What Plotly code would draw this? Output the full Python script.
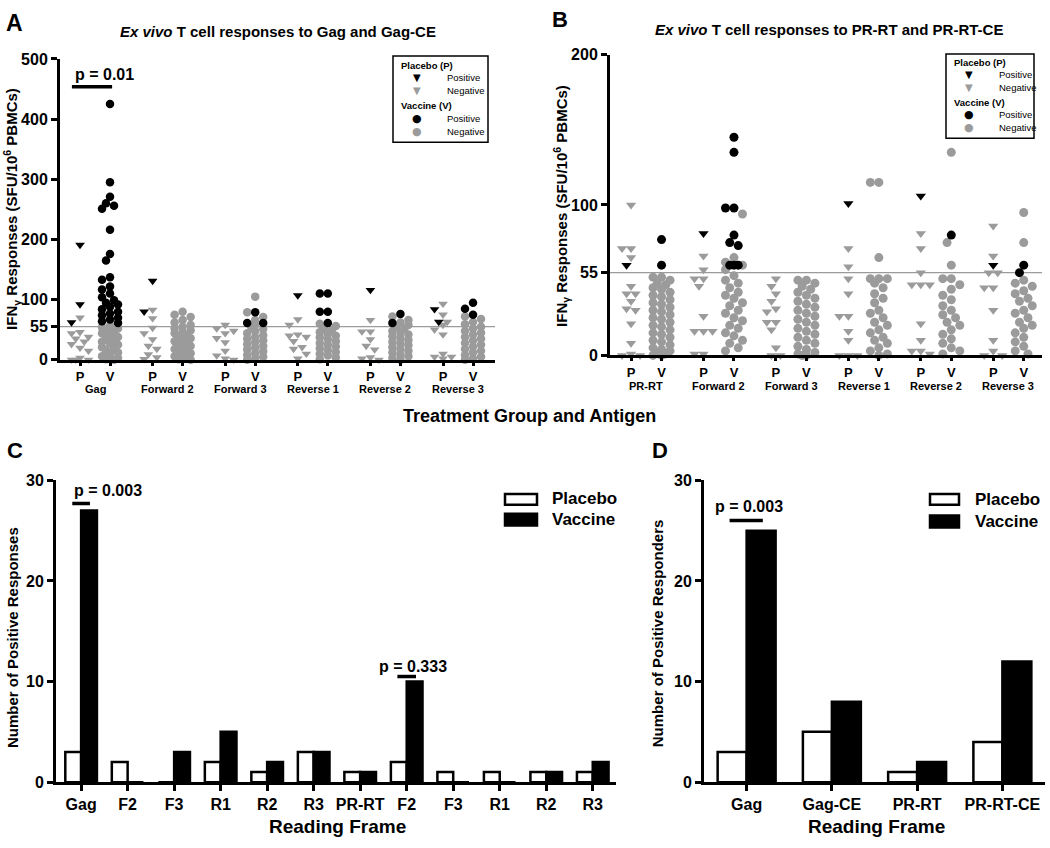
import math
import plotly.graph_objects as go

W, H = 1050, 848
FONT = "Liberation Sans, Arial, Helvetica, sans-serif"
GREY = "#9b9b9b"

# ---------------- Panel A data (Gag and Gag-CE) ----------------
groups_A = ["Gag", "Forward 2", "Forward 3", "Reverse 1", "Reverse 2", "Reverse 3"]
A_placebo_pos = [[191, 92, 62], [131, 80], [], [107], [116], [84, 63]]
A_placebo_neg = [
    [70, 46, 44, 38, 35, 30, 26, 20, 15, 3, 0, 0, 0],
    [83, 69, 53, 44, 34, 23, 18, 9, 4, 1],
    [58, 52, 48, 44, 36, 29, 15, 7, 2, 0],
    [67, 58, 42, 40, 38, 31, 21, 18, 10, 2],
    [66, 47, 47, 34, 23, 17, 4, 2, 0],
    [93, 75, 63, 58, 50, 42, 10, 5, 5, 2],
]
A_vaccine_pos = [
    [425, 295, 271, 260, 256, 251, 216, 176, 165, 137, 133, 122, 117, 110,
     104, 99, 95, 92, 88, 84, 80, 77, 74, 70, 67, 64, 61],
    [],
    [79, 61, 61],
    [110, 110, 80, 80, 61],
    [76, 61],
    [95, 85, 75],
]
A_vaccine_neg = [
    [57, 54, 52, 49, 47, 44, 41, 38, 36, 33, 30, 27, 25, 21, 18, 16, 12, 9, 6, 3, 1, 0],
    [80, 75, 71, 66, 62, 58, 55, 52, 49, 46, 44, 41, 38, 36, 33, 31, 28, 26, 23, 21,
     18, 16, 13, 11, 8, 6, 3, 1, 0],
    [105, 79, 71, 66, 58, 55, 51, 48, 44, 41, 38, 35, 32, 29, 26, 23, 20, 17, 14, 11, 8, 5, 2, 0],
    [60, 56, 52, 49, 46, 43, 40, 37, 34, 31, 28, 25, 22, 19, 16, 13, 10, 7, 4, 1],
    [72, 66, 62, 58, 55, 52, 48, 45, 42, 39, 36, 33, 30, 27, 24, 21, 18, 15, 12, 9, 6, 3, 0],
    [72, 68, 63, 59, 55, 52, 48, 45, 42, 38, 35, 32, 28, 25, 22, 18, 15, 12, 8, 5, 2, 0],
]

# ---------------- Panel B data (PR-RT and PR-RT-CE) ----------------
groups_B = ["PR-RT", "Forward 2", "Forward 3", "Reverse 1", "Reverse 2", "Reverse 3"]
B_placebo_pos = [[60], [81], [], [101], [106], [60]]
B_placebo_neg = [
    [100, 71, 71, 65, 46, 41, 41, 36, 31, 30, 21, 8, 1, 0, 0],
    [66, 57, 51, 51, 46, 26, 16, 16, 16, 1, 1],
    [51, 46, 41, 36, 31, 29, 22, 22, 17, 5, 0, 0],
    [71, 59, 51, 41, 26, 26, 16, 10, 0, 0, 0],
    [81, 71, 55, 47, 47, 47, 21, 10, 3, 3, 1],
    [86, 66, 55, 55, 45, 45, 30, 10, 3, 0, 0],
]
B_vaccine_pos = [[77, 60], [145, 135, 98, 98, 80, 75, 73, 60, 60, 60], [], [], [80], [60, 55]]
B_vaccine_neg = [
    [52, 52, 50, 48, 47, 45, 44, 42, 40, 39, 37, 35, 34, 32, 30, 29, 27, 25, 24, 22,
     20, 19, 17, 15, 14, 12, 10, 9, 7, 5, 4, 3, 2, 1, 0, 0],
    [94, 65, 62, 60, 57, 53, 50, 48, 45, 42, 40, 38, 35, 33, 30, 28, 25, 23, 20, 18,
     15, 13, 10, 8, 5, 3],
    [50, 50, 48, 46, 44, 42, 40, 38, 36, 34, 32, 30, 28, 26, 24, 22, 20, 18, 16, 14,
     12, 10, 8, 6, 4, 2, 1, 0, 0],
    [115, 115, 65, 51, 51, 51, 48, 45, 41, 38, 35, 30, 28, 25, 22, 20, 17, 15, 12, 10, 8, 5, 3, 1, 0],
    [135, 75, 60, 51, 51, 47, 44, 40, 37, 33, 30, 27, 25, 22, 20, 17, 14, 11, 8, 5, 3, 1],
    [95, 75, 50, 48, 46, 43, 41, 38, 36, 33, 30, 28, 25, 22, 20, 18, 15, 12, 9, 6, 3, 1],
]

# ---------------- Panel C / D data ----------------
C_labels = ["Gag", "F2", "F3", "R1", "R2", "R3", "PR-RT", "F2", "F3", "R1", "R2", "R3"]
C_placebo = [3, 2, 0, 2, 1, 3, 1, 2, 1, 1, 1, 1]
C_vaccine = [27, 0, 3, 5, 2, 3, 1, 10, 0, 0, 1, 2]

D_labels = ["Gag", "Gag-CE", "PR-RT", "PR-RT-CE"]
D_placebo = [3, 5, 1, 4]
D_vaccine = [25, 8, 2, 12]

A_ticks = [0, 55, 100, 200, 300, 400, 500]
B_ticks = [0, 55, 100, 200]
C_ticks = [0, 10, 20, 30]


def px(x):
    return x / W


def py(y):
    return 1 - y / H


def swarm(values, ypx, d):
    """Deterministic beeswarm offsets (in pixels) for one column."""
    order = sorted(range(len(values)), key=lambda i: -values[i])
    cands = [0.0, -0.5 * d, 0.5 * d, -d, d]
    placed = []
    offs = [0.0] * len(values)
    for i in order:
        y = values[i] * ypx
        best, bestd = 0.0, -1.0
        for c in cands:
            md = min((math.hypot(c - a, y - b) for a, b in placed), default=1e9)
            if md >= 0.92 * d:
                best = c
                break
            if md > bestd:
                bestd, best = md, c
        placed.append((best, y))
        offs[i] = best
    return offs


fig = go.Figure()


def add_scatter_panel(pos_p, neg_p, pos_v, neg_v, gap, unit_px, ypx, xa, ya, dtri, dcir, stri, scir):
    traces = {"pn": ([], []), "pp": ([], []), "vn": ([], []), "vp": ([], [])}
    for i in range(len(pos_p)):
        cp = i * gap
        cv = i * gap + 1.0
        for center, pos, neg, kp, kn, d in ((cp, pos_p[i], neg_p[i], "pp", "pn", dtri),
                                            (cv, pos_v[i], neg_v[i], "vp", "vn", dcir)):
            vals = list(pos) + list(neg)
            offs = swarm(vals, ypx, d)
            for j, v in enumerate(vals):
                key = kp if j < len(pos) else kn
                traces[key][0].append(center + offs[j] / unit_px)
                traces[key][1].append(v)
    spec = [("pn", "triangle-down", GREY, stri), ("vn", "circle", GREY, scir),
            ("pp", "triangle-down", "black", stri), ("vp", "circle", "black", scir)]
    for key, sym, col, size in spec:
        fig.add_trace(go.Scatter(
            x=traces[key][0], y=traces[key][1], mode="markers",
            marker=dict(symbol=sym, color=col, size=size, line=dict(width=0)),
            xaxis=xa, yaxis=ya, showlegend=False, cliponaxis=False, hoverinfo="y"))


GAP_A, UNIT_A, YPX_A = 2.42, 30.0, 307.0 / 500
GAP_B, UNIT_B, YPX_B = 2.375, 30.5, 307.0 / 200

add_scatter_panel(A_placebo_pos, A_placebo_neg, A_vaccine_pos, A_vaccine_neg,
                  GAP_A, UNIT_A, YPX_A, "x", "y", 8.5, 8.0, 8.5, 8.5)
add_scatter_panel(B_placebo_pos, B_placebo_neg, B_vaccine_pos, B_vaccine_neg,
                  GAP_B, UNIT_B, YPX_B, "x2", "y2", 9.0, 8.5, 9, 9)

# Bars C
fig.add_trace(go.Bar(x=[i - 0.17 for i in range(len(C_labels))], y=C_placebo, width=0.34,
                     marker=dict(color="white", line=dict(color="black", width=2.5)),
                     xaxis="x3", yaxis="y3", showlegend=False, cliponaxis=False))
fig.add_trace(go.Bar(x=[i + 0.17 for i in range(len(C_labels))], y=C_vaccine, width=0.34,
                     marker=dict(color="black", line=dict(color="black", width=2.5)),
                     xaxis="x3", yaxis="y3", showlegend=False, cliponaxis=False))
# Bars D
fig.add_trace(go.Bar(x=[i - 0.17 for i in range(len(D_labels))], y=D_placebo, width=0.34,
                     marker=dict(color="white", line=dict(color="black", width=2.5)),
                     xaxis="x4", yaxis="y4", showlegend=False, cliponaxis=False))
fig.add_trace(go.Bar(x=[i + 0.17 for i in range(len(D_labels))], y=D_vaccine, width=0.34,
                     marker=dict(color="black", line=dict(color="black", width=2.5)),
                     xaxis="x4", yaxis="y4", showlegend=False, cliponaxis=False))


def axis_style(**kw):
    base = dict(showline=True, linecolor="black", linewidth=3, ticks="outside",
                tickwidth=2.5, ticklen=6, tickcolor="black", showgrid=False,
                zeroline=False, fixedrange=True,
                tickfont=dict(family=FONT, size=16, color="black", weight="bold"))
    base.update(kw)
    return base


A_xt, A_xl, B_xt, B_xl = [], [], [], []
for i in range(6):
    A_xt += [i * GAP_A, i * GAP_A + 1]
    A_xl += ["P", "V"]
    B_xt += [i * GAP_B, i * GAP_B + 1]
    B_xl += ["P", "V"]

small_tf = dict(family=FONT, size=13, color="black", weight="bold")

fig.update_layout(
    width=W, height=H, margin=dict(l=0, r=0, t=0, b=0),
    paper_bgcolor="white", plot_bgcolor="white", barmode="overlay",
    font=dict(family=FONT, color="black"),
    xaxis=axis_style(domain=[px(60), px(495)], range=[-0.667, -0.667 + 435 / UNIT_A],
                     tickvals=A_xt, ticktext=A_xl, tickfont=small_tf, ticklen=3, anchor="y"),
    yaxis=axis_style(domain=[py(359), py(52)], range=[0, 500], tickvals=A_ticks, anchor="x"),
    xaxis2=axis_style(domain=[px(610), px(1042)], range=[-0.69, -0.69 + 432 / UNIT_B],
                      tickvals=B_xt, ticktext=B_xl, tickfont=small_tf, ticklen=3, anchor="y2"),
    yaxis2=axis_style(domain=[py(354.5), py(47.5)], range=[0, 200], tickvals=B_ticks, anchor="x2"),
    xaxis3=axis_style(domain=[px(56), px(616)], range=[-0.54, 11.5],
                      tickvals=list(range(len(C_labels))), ticktext=C_labels, anchor="y3"),
    yaxis3=axis_style(domain=[py(790), py(482)], range=[0, 30], tickvals=C_ticks, anchor="x3"),
    xaxis4=axis_style(domain=[px(704), px(1045)], range=[-0.5, 3.5],
                      tickvals=list(range(len(D_labels))), ticktext=D_labels, anchor="y4"),
    yaxis4=axis_style(domain=[py(790), py(482)], range=[0, 30], tickvals=C_ticks, anchor="x4"),
)

shapes = []
# threshold lines at 55
shapes.append(dict(type="line", xref="x domain", yref="y", x0=0, x1=1, y0=55, y1=55,
                   line=dict(color=GREY, width=1.3), layer="below"))
shapes.append(dict(type="line", xref="x2 domain", yref="y2", x0=0, x1=1, y0=55, y1=55,
                   line=dict(color=GREY, width=1.3), layer="below"))
# significance bars
shapes.append(dict(type="line", xref="x", yref="y", x0=-0.27, x1=1.07, y0=454, y1=454,
                   line=dict(color="black", width=3.5)))
shapes.append(dict(type="line", xref="x3", yref="y3", x0=-0.19, x1=0.19, y0=27.7, y1=27.7,
                   line=dict(color="black", width=3.5)))
shapes.append(dict(type="line", xref="x3", yref="y3", x0=6.8, x1=7.2, y0=10.5, y1=10.5,
                   line=dict(color="black", width=3.5)))
shapes.append(dict(type="line", xref="x4", yref="y4", x0=-0.2, x1=0.19, y0=26, y1=26,
                   line=dict(color="black", width=3.5)))
# legend boxes A, B
shapes.append(dict(type="rect", xref="paper", yref="paper", x0=px(393), x1=px(488),
                   y0=py(137), y1=py(49), line=dict(color="black", width=1.5)))
shapes.append(dict(type="rect", xref="paper", yref="paper", x0=px(946), x1=px(1034),
                   y0=py(133), y1=py(47), line=dict(color="black", width=1.5)))
# bar legends C, D
for (x0, x1, yp, yv) in ((505, 537, (496, 507), (516, 528)), (930, 959, (496, 507), (518, 530))):
    shapes.append(dict(type="rect", xref="paper", yref="paper", x0=px(x0), x1=px(x1),
                       y0=py(yp[1]), y1=py(yp[0]), fillcolor="white",
                       line=dict(color="black", width=2.5)))
    shapes.append(dict(type="rect", xref="paper", yref="paper", x0=px(x0), x1=px(x1),
                       y0=py(yv[1]), y1=py(yv[0]), fillcolor="black",
                       line=dict(color="black", width=2.5)))

ann = []


def text(x, y, s, size, bold=True, anchor="center", angle=0, color="black", family=FONT):
    ann.append(dict(x=px(x), y=py(y), xref="paper", yref="paper", text=s, showarrow=False,
                    xanchor=anchor, yanchor="middle", textangle=angle,
                    font=dict(family=family, size=size, color=color,
                              weight="bold" if bold else "normal")))


# panel letters
text(14, 15, "A", 23)
text(560, 12, "B", 22)
text(15, 452, "C", 22)
text(660, 452, "D", 22)
# titles
text(278, 24, "<i>Ex vivo</i> T cell responses to Gag and Gag-CE", 15)
text(829, 22, "<i>Ex vivo</i> T cell responses to PR-RT and PR-RT-CE", 15)
# y titles
ytitle = "IFN<sub>γ</sub> Responses (SFU/10<sup>6</sup> PBMCs)"
text(12, 205, ytitle, 15, angle=-90)
text(562, 202, ytitle, 15, angle=-90)
text(12, 643, "Number of Positive Responses", 15, angle=-90)
text(657, 638, "Number of Positive Responders", 15, angle=-90)
# x titles
text(529, 416, "Treatment Group and Antigen", 18)
text(337, 835, "Reading Frame", 19)
text(876, 835, "Reading Frame", 19)
# group labels under A and B
for i, g in enumerate(groups_A):
    ann.append(dict(x=i * GAP_A + 0.5, y=py(389), xref="x", yref="paper", text=g,
                    showarrow=False, xanchor="center", yanchor="middle",
                    font=dict(family=FONT, size=11, color="black", weight="bold")))
for i, g in enumerate(groups_B):
    ann.append(dict(x=i * GAP_B + 0.5, y=py(386), xref="x2", yref="paper", text=g,
                    showarrow=False, xanchor="center", yanchor="middle",
                    font=dict(family=FONT, size=11, color="black", weight="bold")))
# p values
text(104, 68, "p = 0.01", 16)
text(108, 492, "p = 0.003", 16)
text(413, 672, "p = 0.333", 16)
text(749, 509, "p = 0.003", 16)
# bar legends
text(550, 501, "Placebo", 17, anchor="left")
text(550, 522, "Vaccine", 17, anchor="left")
text(973, 502, "Placebo", 17, anchor="left")
text(973, 524, "Vaccine", 17, anchor="left")

# scatter legends (title, tri+, tri-, title, circ+, circ- rows)
GL = "DejaVu Sans"
legend_rows = {
    "A": dict(bx=399, sx=417, tx=445, ys=[59, 71, 84, 99, 113, 126]),
    "B": dict(bx=952, sx=969, tx=997, ys=[56, 68, 81, 96, 109, 122]),
}
for spec in legend_rows.values():
    bx, sx, tx, ys = spec["bx"], spec["sx"], spec["tx"], spec["ys"]
    text(bx, ys[0], "Placebo (P)", 9.5, anchor="left")
    text(sx, ys[1], "▼", 10, bold=False, family=GL)
    text(tx, ys[1], "Positive", 9.5, bold=False, anchor="left")
    text(sx, ys[2], "▼", 10, bold=False, family=GL, color=GREY)
    text(tx, ys[2], "Negative", 9.5, bold=False, anchor="left")
    text(bx, ys[3], "Vaccine (V)", 9.5, anchor="left")
    text(sx, ys[4], "●", 11, bold=False, family=GL)
    text(tx, ys[4], "Positive", 9.5, bold=False, anchor="left")
    text(sx, ys[5], "●", 11, bold=False, family=GL, color=GREY)
    text(tx, ys[5], "Negative", 9.5, bold=False, anchor="left")

fig.update_layout(shapes=shapes, annotations=ann)
fig.write_html("out.html", config={"displayModeBar": False},
               post_script="document.body.style.margin='0';document.body.style.overflow='hidden';")
